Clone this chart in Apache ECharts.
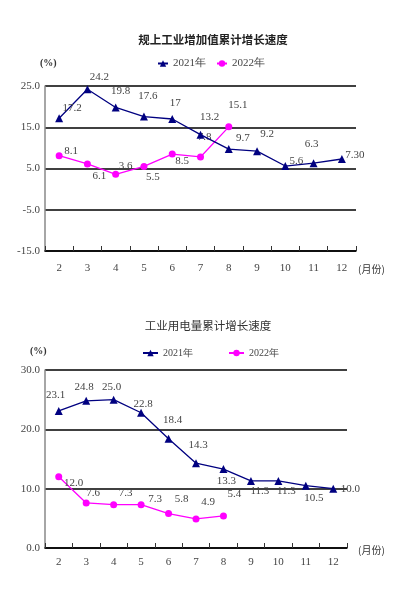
<!DOCTYPE html>
<html>
<head>
<meta charset="utf-8">
<script src="https://cdn.jsdelivr.net/npm/echarts@6/dist/echarts.min.js"></script>
<style>
html, body { margin: 0; padding: 0; background: #fff; }
#main { width: 397px; height: 602px; }
</style>
</head>
<body>
<div id="main"></div>
<script>
var months = ['2', '3', '4', '5', '6', '7', '8', '9', '10', '11', '12'];

// 规上工业增加值累计增长速度
var ind2021 = [17.2, 24.2, 19.8, 17.6, 17, 13.2, 9.7, 9.2, 5.6, 6.3, 7.3];
var ind2021Text = ['17.2', '24.2', '19.8', '17.6', '17', '13.2', '9.7', '9.2', '5.6', '6.3', '7.30'];
var ind2022 = [8.1, 6.1, 3.6, 5.5, 8.5, 7.8, 15.1];

// 工业用电量累计增长速度
var elec2021 = [23.1, 24.8, 25.0, 22.8, 18.4, 14.3, 13.3, 11.3, 11.3, 10.5, 10.0];
var elec2022 = [12.0, 7.6, 7.3, 7.3, 5.8, 4.9, 5.4];

var ticks1 = [-15, -5, 5, 15, 25];
var ticks2 = [0, 10, 20, 30];

// label offsets (from point centre), kept apart from the values
var off1a = [[13,-10],[12,-12],[5,-16],[4,-20],[3,-16],[9,-18],[14,-11],[10,-17],[11,-5],[-2,-19],[13,-4]];
var off1b = [[12,-5],[12,12],[10,-8],[9,11],[10,7],[4,-20],[9,-22]];
var off2a = [[-3,-16],[-2,-14],[-2,-13],[2,-9],[4,-19],[2,-18],[3,12],[9,10],[8,10],[8,12],[17,0]];
var off2b = [[15,6],[7,-10],[12,-12],[14,-6],[13,-14],[12,-17],[11,-22]];

var numFont = 'Liberation Serif';
var navy = '#000080';
var pink = '#ff00ff';

function items(vals, offs, texts) {
    return vals.map(function (v, i) {
        return {
            value: v,
            label: {
                offset: offs[i],
                formatter: texts ? texts[i] : String(v)
            }
        };
    });
}

function lbl() {
    return {
        show: true,
        position: 'inside',
        color: '#444',
        fontFamily: numFont,
        fontSize: 11
    };
}

function xAx(idx, margin) {
    return {
        type: 'category',
        gridIndex: idx,
        data: months,
        boundaryGap: true,
        axisLine: { onZero: false, lineStyle: { color: '#000', width: 1.5 } },
        axisTick: { show: true, inside: true, length: 5, interval: 0, lineStyle: { color: '#333' } },
        axisLabel: { color: '#444', fontFamily: numFont, fontSize: 11, margin: margin, interval: 0 },
        splitLine: { show: false }
    };
}

function yAx(idx, ticks, dec) {
    return {
        type: 'value',
        gridIndex: idx,
        min: ticks[0],
        max: ticks[ticks.length - 1],
        interval: 10,
        axisLine: { show: true, lineStyle: { color: '#888', width: 1.5 } },
        axisTick: { show: false },
        axisLabel: {
            color: '#444', fontFamily: numFont, fontSize: 11, margin: 5,
            formatter: function (v) { return v.toFixed(dec); }
        },
        splitLine: { show: true, lineStyle: { color: '#000', width: 1.5 } }
    };
}

var myChart = echarts.init(document.getElementById('main'));

var option = {
    animation: false,
    backgroundColor: '#fff',
    title: [{
        text: '规上工业增加值累计增长速度',
        left: 208, top: 29, textAlign: 'center',
        textStyle: { fontFamily: 'Noto Sans CJK SC', fontSize: 11.5, fontWeight: 'bold', color: '#222' }
    }, {
        text: '工业用电量累计增长速度',
        left: 203, top: 315, textAlign: 'center',
        textStyle: { fontFamily: 'Noto Sans CJK SC', fontSize: 11.5, fontWeight: 'normal', color: '#333' }
    }],
    legend: [{
        data: ['2021年', '2022年'],
        left: 152, top: 53,
        itemWidth: 10, itemHeight: 8, itemGap: 10,
        textStyle: { color: '#444', fontFamily: numFont, fontSize: 11 }
    }, {
        data: ['2021年', '2022年'],
        left: 137, top: 343,
        itemWidth: 15, itemHeight: 8, itemGap: 35,
        textStyle: { color: '#444', fontFamily: numFont, fontSize: 10 }
    }],
    grid: [
        { left: 45, top: 86, width: 311, height: 165 },
        { left: 45, top: 370, width: 302, height: 178 }
    ],
    xAxis: [xAx(0, 12), xAx(1, 9)],
    yAxis: [yAx(0, ticks1, 1), yAx(1, ticks2, 1)],
    graphic: [
        { type: 'text', left: 40, top: 58, style: { text: '(%)', fill: '#333', font: 'bold 10px "Liberation Serif"' } },
        { type: 'text', left: 358, top: 264, style: { text: '(月份)', fill: '#333', font: '10px "Noto Sans CJK SC"' } },
        { type: 'text', left: 30, top: 346, style: { text: '(%)', fill: '#333', font: 'bold 10px "Liberation Serif"' } },
        { type: 'text', left: 358, top: 545, style: { text: '(月份)', fill: '#333', font: '10px "Noto Sans CJK SC"' } }
    ],
    series: [{
        name: '2021年', type: 'line', xAxisIndex: 0, yAxisIndex: 0,
        data: items(ind2021, off1a, ind2021Text),
        symbol: 'triangle', symbolSize: 8,
        itemStyle: { color: navy }, lineStyle: { color: navy, width: 1.3 },
        label: lbl(), z: 3
    }, {
        name: '2022年', type: 'line', xAxisIndex: 0, yAxisIndex: 0,
        data: items(ind2022, off1b),
        symbol: 'circle', symbolSize: 7,
        itemStyle: { color: pink }, lineStyle: { color: pink, width: 1.3 },
        label: lbl(), z: 2
    }, {
        name: '2021年', type: 'line', xAxisIndex: 1, yAxisIndex: 1,
        data: items(elec2021, off2a, elec2021.map(function (v) { return v.toFixed(1); })),
        symbol: 'triangle', symbolSize: 8,
        itemStyle: { color: navy }, lineStyle: { color: navy, width: 1.3 },
        label: lbl(), z: 3
    }, {
        name: '2022年', type: 'line', xAxisIndex: 1, yAxisIndex: 1,
        data: items(elec2022, off2b, elec2022.map(function (v) { return v.toFixed(1); })),
        symbol: 'circle', symbolSize: 7,
        itemStyle: { color: pink }, lineStyle: { color: pink, width: 1.3 },
        label: lbl(), z: 2
    }]
};

myChart.setOption(option);
</script>
</body>
</html>
